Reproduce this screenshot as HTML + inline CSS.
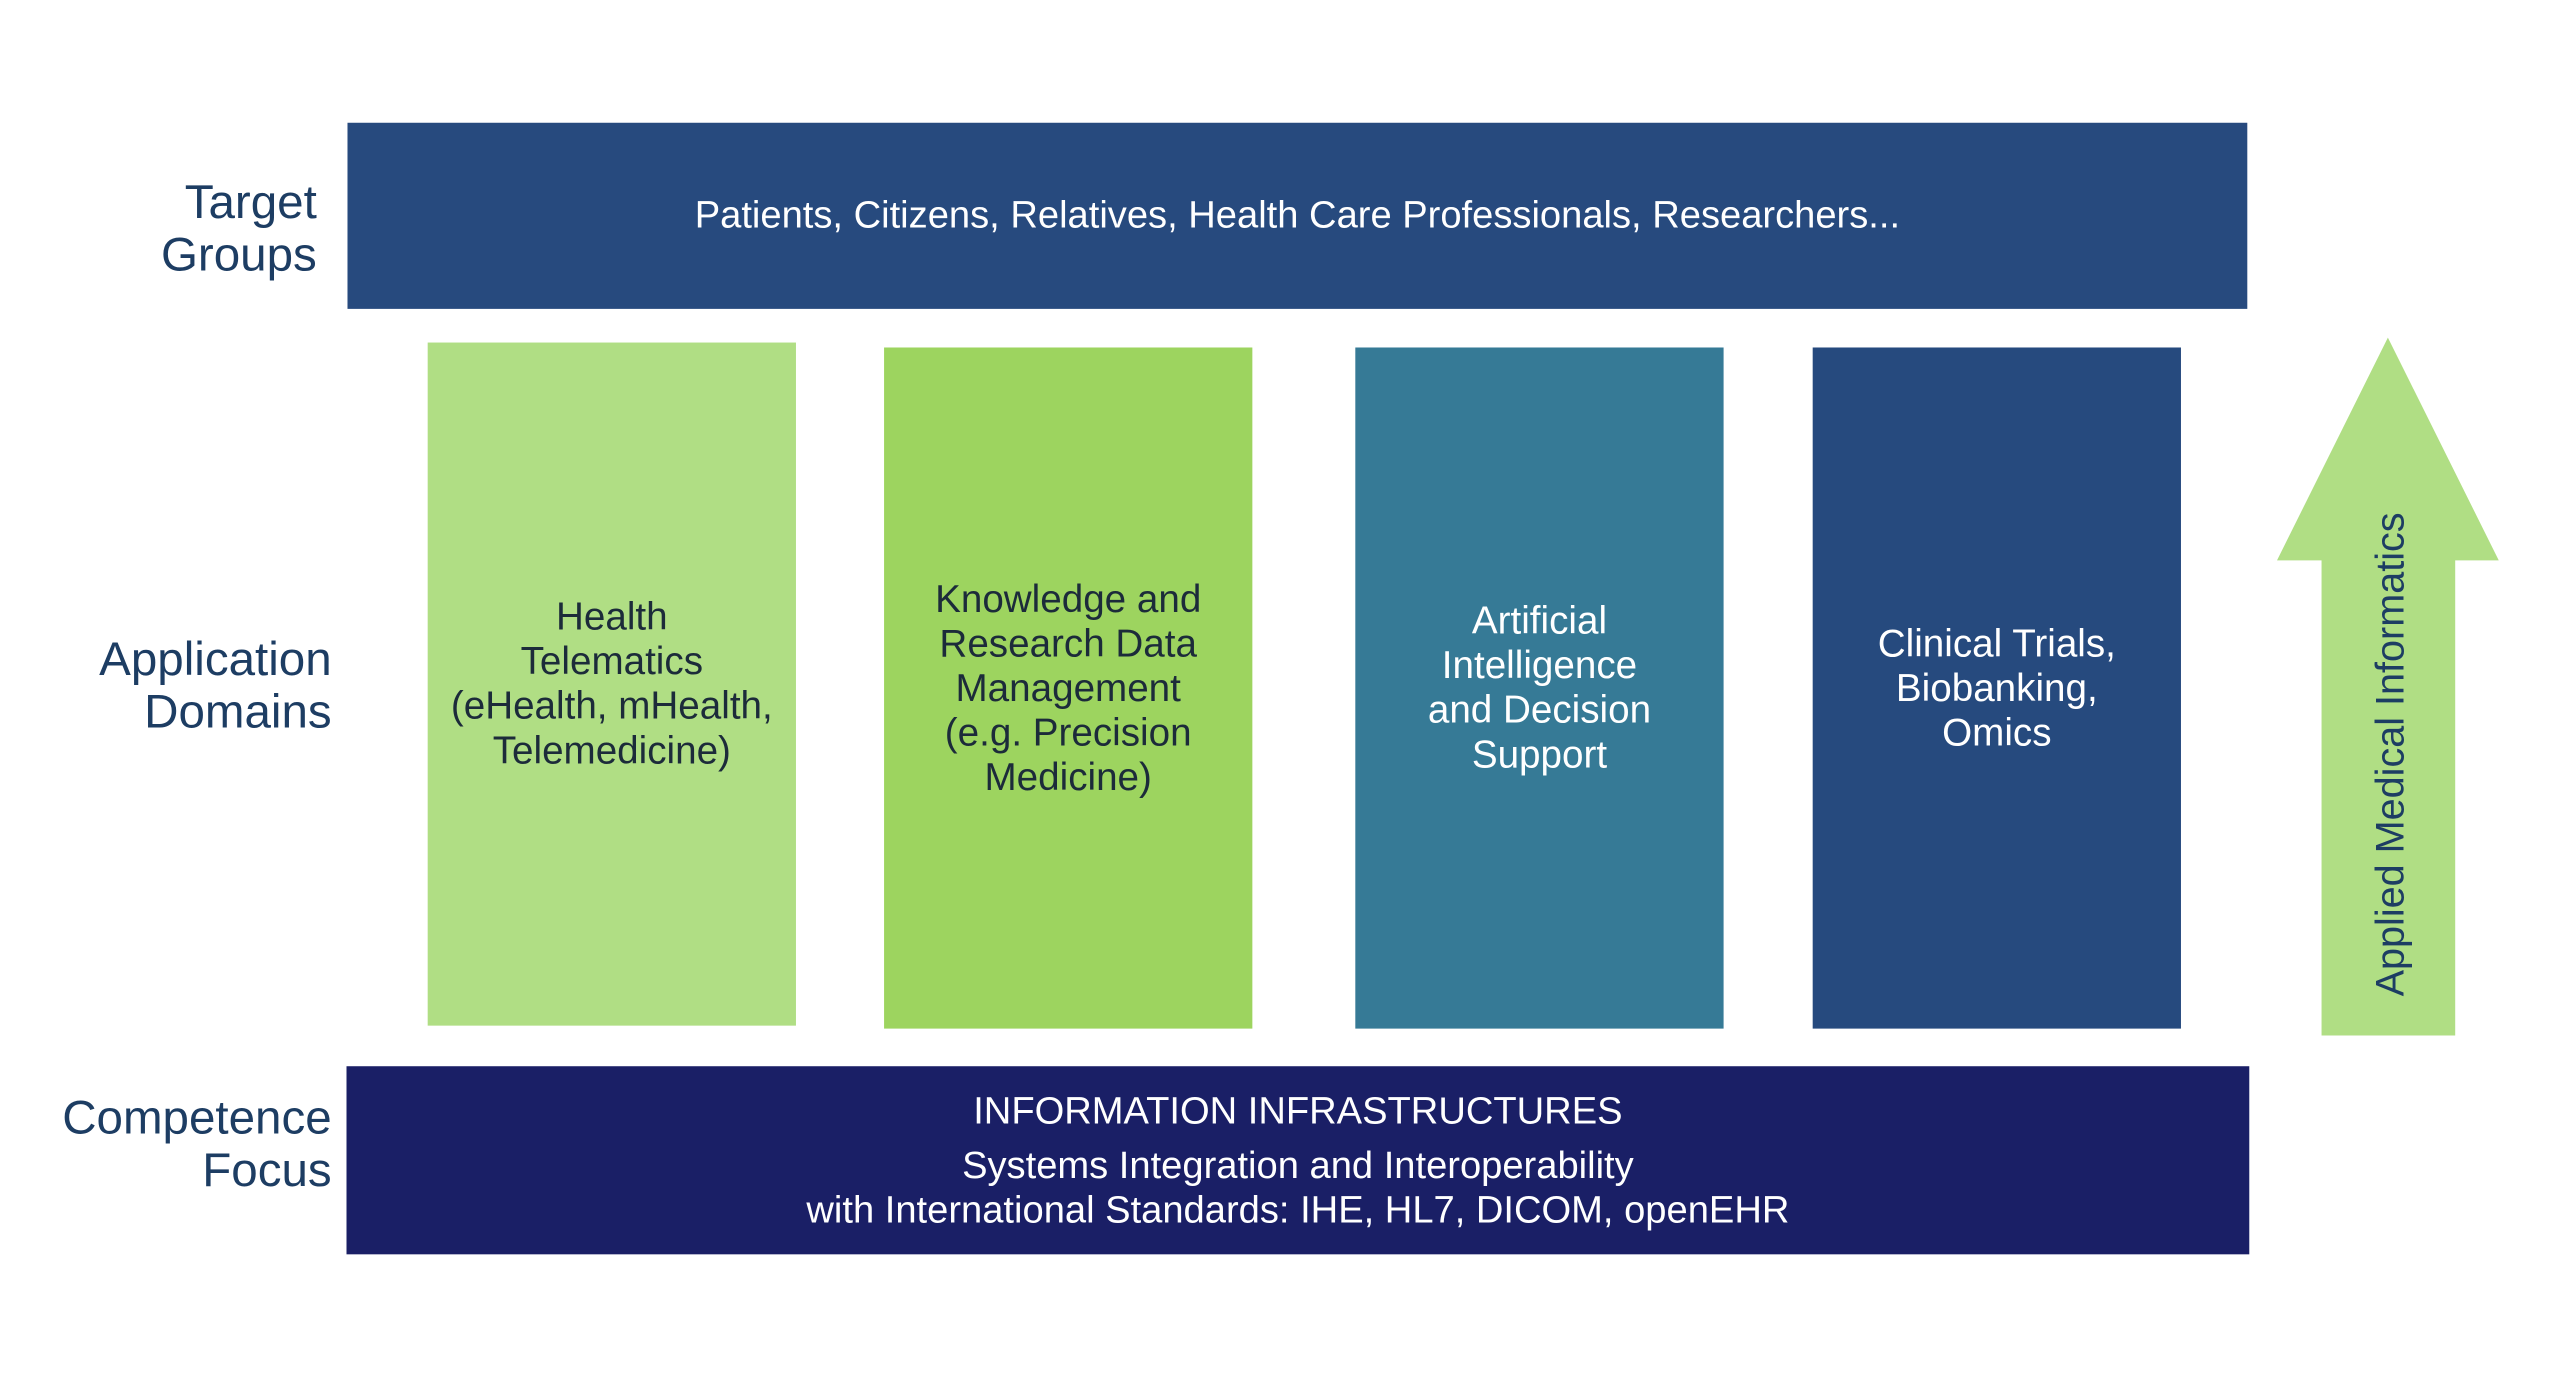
<!DOCTYPE html>
<html><head><meta charset="utf-8"><style>
html,body{margin:0;padding:0;background:#fff;}
body{width:2560px;height:1373px;position:relative;overflow:hidden;font-family:"Liberation Sans",sans-serif;}
#w{position:absolute;left:0;top:0;width:2560px;height:1373px;transform:scale(0.99);transform-origin:0 0;}
.a{position:absolute;box-sizing:border-box;display:flex;align-items:center;justify-content:center;text-align:center;}
.lab{position:absolute;text-align:right;color:#1d3d63;font-size:48px;line-height:53px;}
.col{font-size:39px;line-height:45px;}
</style></head><body><div id="w">
<div class="lab" style="right:2240px;top:178px;">Target<br>Groups</div>
<div class="lab" style="right:2225px;top:640px;">Application<br>Domains</div>
<div class="lab" style="right:2225px;top:1103px;">Competence<br>Focus</div>

<div class="a" style="left:351px;top:124px;width:1919px;height:188px;background:#274a7e;color:#fff;font-size:38.5px;">Patients, Citizens, Relatives, Health Care Professionals, Researchers...</div>

<div class="a col" style="left:432px;top:346px;width:372px;height:690px;background:#b0de84;color:#1c2b3a;">Health<br>Telematics<br>(eHealth, mHealth,<br>Telemedicine)</div>
<div class="a col" style="left:893px;top:351px;width:372px;height:688px;background:#9dd45f;color:#1c2b3a;">Knowledge and<br>Research Data<br>Management<br>(e.g. Precision<br>Medicine)</div>
<div class="a col" style="left:1369px;top:351px;width:372px;height:688px;background:#367a96;color:#fff;">Artificial<br>Intelligence<br>and Decision<br>Support</div>
<div class="a col" style="left:1831px;top:351px;width:372px;height:688px;background:#264a7e;color:#fff;">Clinical Trials,<br>Biobanking,<br>Omics</div>

<div class="a" style="left:350px;top:1077px;width:1922px;height:190px;background:#1a1f66;color:#fff;font-size:38.5px;line-height:45px;flex-direction:column;">
<div style="margin-bottom:10px;">INFORMATION INFRASTRUCTURES</div>
<div>Systems Integration and Interoperability<br>with International Standards: IHE, HL7, DICOM, openEHR</div></div>

<svg style="position:absolute;left:0;top:0" width="2560" height="1373">
<polygon points="2412,341 2524,566 2480,566 2480,1046 2345,1046 2345,566 2300,566" fill="#b0de84"/>
<text x="2428" y="762" transform="rotate(-90 2428 762)" text-anchor="middle" font-family="Liberation Sans, sans-serif" font-size="40" fill="#1d3d63">Applied Medical Informatics</text>
</svg>
</div></body></html>
